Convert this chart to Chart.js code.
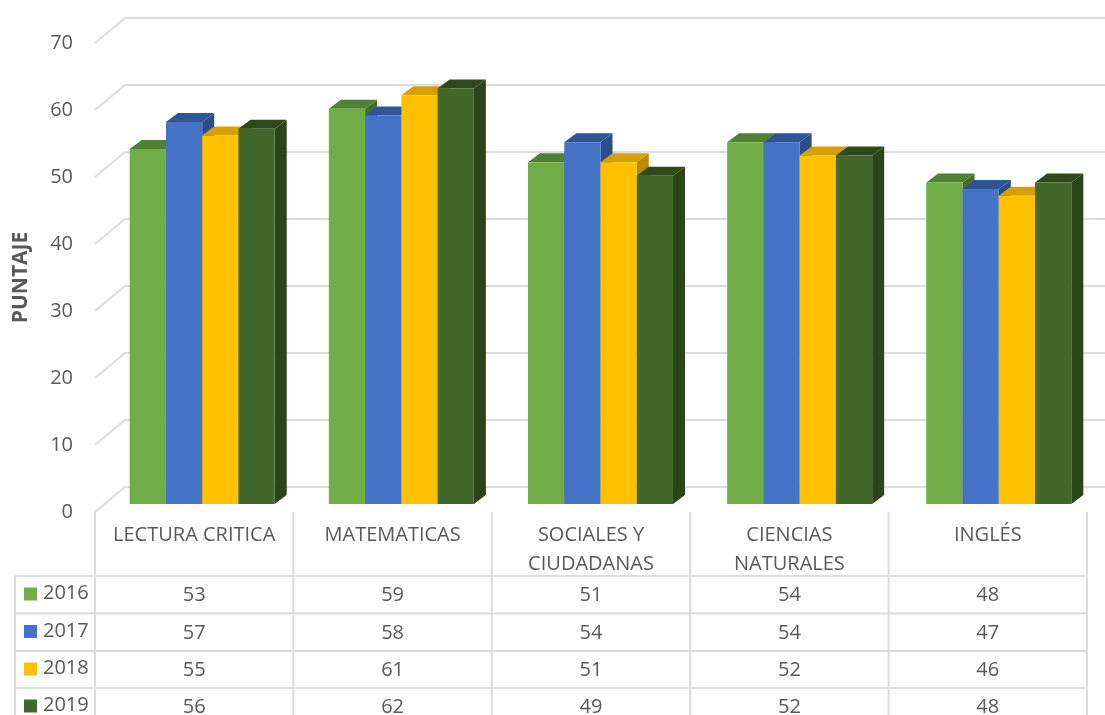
<!DOCTYPE html>
<html>
<head>
<meta charset="utf-8">
<style>
  html, body { margin: 0; padding: 0; background: #fff; overflow: hidden; }
  canvas { display: block; }
</style>
<script src="https://cdn.jsdelivr.net/npm/chart.js@4"></script>
</head>
<body>
<canvas id="myChart" width="1105" height="715"></canvas>
<script>
var categories = ['LECTURA CRITICA', 'MATEMATICAS', ['SOCIALES Y', 'CIUDADANAS'], ['CIENCIAS', 'NATURALES'], 'INGLÉS'];
var years = ['2016', '2017', '2018', '2019'];
var values2016 = [53, 59, 51, 54, 48];
var values2017 = [57, 58, 54, 54, 47];
var values2018 = [55, 61, 51, 52, 46];
var values2019 = [56, 62, 49, 52, 48];

var fontName = '"Open Sans", sans-serif';
var textColor = '#595959';
var lineColor = '#dcdcdc';
var topColors = ['#4f8134', '#2f5597', '#d59f05', '#2d4a1c'];
var sideColors = ['#44702c', '#2b4e8c', '#b98a00', '#2a4517'];

// fake 3d: bars sit in the middle of the floor, the grid on the back wall
var barShift = { x: 8, y: -8 };
var barDrift = 0.75; // bars spread a little wider than the table columns
var wallShift = { x: 30, y: -25 };
var barDepth = { x: 12, y: -9 };

var rowTops = [576, 613.5, 651, 688];
var tableLeft = 15;

function poly(ctx, color, pts) {
  ctx.fillStyle = color;
  ctx.beginPath();
  pts.forEach(function (p, i) {
    if (i === 0) ctx.moveTo(p[0], p[1]);
    else ctx.lineTo(p[0], p[1]);
  });
  ctx.closePath();
  ctx.fill();
}

var wallGrid = {
  id: 'wallGrid',
  beforeDatasetsDraw: function (chart) {
    var ctx = chart.ctx;
    var y = chart.scales.y;
    ctx.save();
    ctx.strokeStyle = lineColor;
    ctx.lineWidth = 2;
    y.ticks.forEach(function (t) {
      var py = y.getPixelForValue(t.value);
      ctx.beginPath();
      ctx.moveTo(y.right, py);
      ctx.lineTo(y.right + wallShift.x, py + wallShift.y);
      ctx.lineTo(chart.width, py + wallShift.y);
      ctx.stroke();
    });
    ctx.restore();
  }
};

var bars3d = {
  id: 'bars3d',
  beforeDatasetsDraw: function (chart) {
    var ctx = chart.ctx;
    // left to right so each bar covers the side of the one before it
    chart.data.datasets.forEach(function (ds, i) {
      chart.getDatasetMeta(i).data.forEach(function (bar, j) {
        var l = bar.x - bar.width / 2;
        var r = bar.x + bar.width / 2;
        var dx = barDepth.x;
        var dy = barDepth.y;
        ctx.save();
        ctx.translate(barShift.x + j * barDrift, barShift.y);
        poly(ctx, sideColors[i], [[r, bar.y], [r + dx, bar.y + dy], [r + dx, bar.base + dy], [r, bar.base]]);
        poly(ctx, topColors[i], [[l, bar.y], [l + dx, bar.y + dy], [r + dx, bar.y + dy], [r, bar.y]]);
        bar.draw(ctx);
        ctx.restore();
      });
    });
    return false;
  }
};

var dataTable = {
  id: 'dataTable',
  afterDraw: function (chart) {
    var ctx = chart.ctx;
    var x = chart.scales.x;
    var y = chart.scales.y;
    var bottom = y.getPixelForValue(0);
    var colW = (x.right - x.left) / categories.length;
    ctx.save();
    ctx.strokeStyle = lineColor;
    ctx.lineWidth = 2;
    ctx.beginPath();
    rowTops.forEach(function (ry) {
      ctx.moveTo(tableLeft, ry);
      ctx.lineTo(x.right, ry);
    });
    ctx.moveTo(tableLeft, rowTops[0]);
    ctx.lineTo(tableLeft, chart.height);
    for (var c = 0; c <= categories.length; c++) {
      ctx.moveTo(x.left + c * colW, bottom);
      ctx.lineTo(x.left + c * colW, chart.height);
    }
    ctx.stroke();

    ctx.font = '20px ' + fontName;
    ctx.textBaseline = 'middle';
    chart.data.datasets.forEach(function (ds, i) {
      var mid = rowTops[i] + 18.5;
      ctx.fillStyle = ds.backgroundColor;
      ctx.fillRect(24, mid - 7, 13, 13);
      ctx.fillStyle = textColor;
      ctx.textAlign = 'left';
      ctx.fillText(ds.label, 43, mid - 1);
      ctx.textAlign = 'center';
      ds.data.forEach(function (v, j) {
        ctx.fillText(String(v), x.getPixelForValue(j), mid + 1);
      });
    });
    ctx.restore();
  }
};

var ctx = document.getElementById('myChart').getContext('2d');
var chart = new Chart(ctx, {
  type: 'bar',
  plugins: [wallGrid, bars3d, dataTable],
  data: {
    labels: categories,
    datasets: [
      { label: years[0], data: values2016, backgroundColor: '#70ad47' },
      { label: years[1], data: values2017, backgroundColor: '#4472c4' },
      { label: years[2], data: values2018, backgroundColor: '#ffc000' },
      { label: years[3], data: values2019, backgroundColor: '#43682b' }
    ]
  },
  options: {
    responsive: false,
    animation: false,
    categoryPercentage: 0.731,
    barPercentage: 1,
    layout: { padding: { top: 43, right: 18, bottom: 0, left: 0 } },
    plugins: { legend: { display: false }, tooltip: { enabled: false } },
    scales: {
      x: {
        grid: { display: false, drawTicks: false },
        border: { display: false },
        ticks: {
          color: textColor,
          font: { family: fontName, size: 20, lineHeight: 1.45 },
          padding: 9,
          maxRotation: 0,
          autoSkip: false
        },
        afterFit: function (scale) { scale.height = 203; }
      },
      y: {
        min: 0,
        max: 70,
        grid: { display: false, drawTicks: false },
        border: { display: false },
        ticks: {
          stepSize: 10,
          color: textColor,
          font: { family: fontName, size: 20 },
          padding: 22
        },
        title: {
          display: true,
          text: 'PUNTAJE',
          color: textColor,
          font: { family: fontName, size: 21, weight: 'bold' },
          padding: { top: 8, bottom: 0 }
        },
        afterFit: function (scale) { scale.width = 95; }
      }
    }
  }
});
</script>
</body>
</html>
